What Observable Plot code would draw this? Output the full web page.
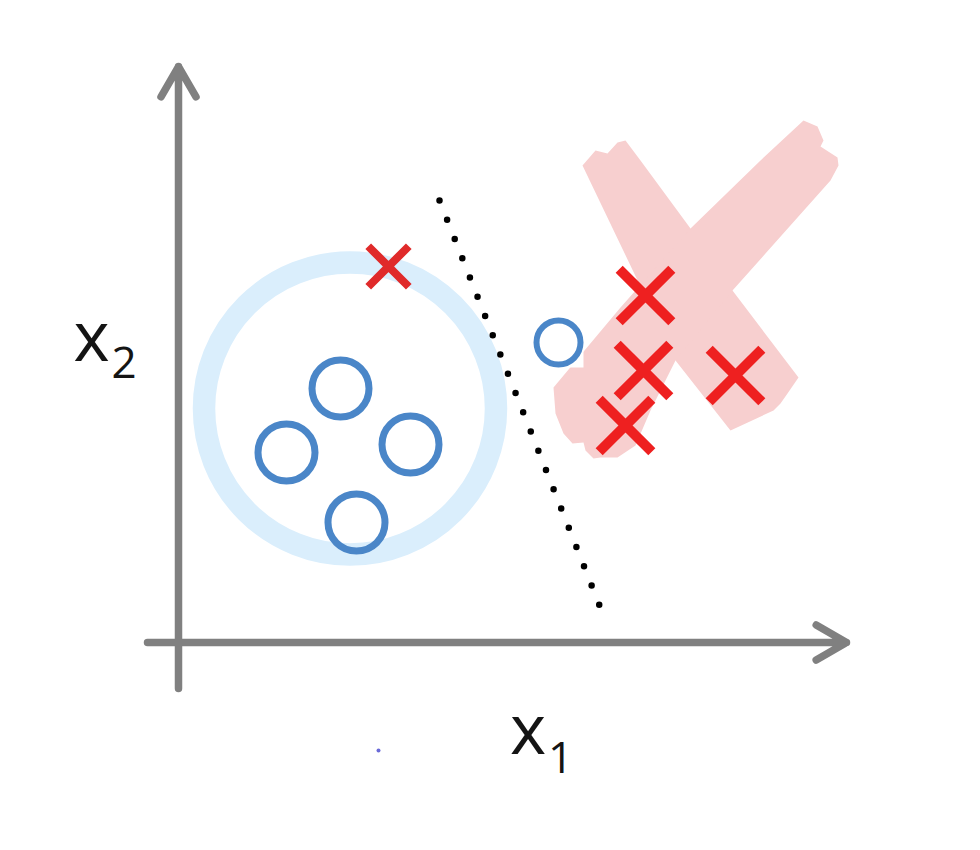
<!DOCTYPE html>
<html><head><meta charset="utf-8">
<script src="https://cdn.jsdelivr.net/npm/d3@7"></script>
<script src="https://cdn.jsdelivr.net/npm/@observablehq/plot@0.6"></script>
<style>html,body{margin:0;padding:0;background:#fff;} #chart svg{display:block}</style>
</head><body><div id="chart"></div>
<script>
// Class "o" points (x1, x2)
const circlePoints = [
  {x: 1.62, y: 2.54},
  {x: 1.08, y: 1.90},
  {x: 2.32, y: 1.98},
  {x: 1.78, y: 1.20}
];
const outlierCircle = [{x: 3.80, y: 3.00}];
// Class "x" points
const crossPoints = [
  {x: 4.67, y: 3.47},
  {x: 4.65, y: 2.72},
  {x: 5.57, y: 2.67},
  {x: 4.47, y: 2.17}
];
const outlierCross = [{x: 2.10, y: 3.76}];
// Cluster highlight ring centre
const clusterRing = [{x: 1.715, y: 2.34}];
// Dotted decision boundary end points
const boundary = [{x: 2.61, y: 4.42}, {x: 4.21, y: 0.37}];
// Axes
const axesArrows = [
  {x1: -0.31, y1: 0, x2: 6.68, y2: 0},
  {x1: 0, y1: -0.46, x2: 0, y2: 5.76}
];
// Big pink "X" brush strokes (outlines)
const brushA = [
  [4.04, 4.77], [4.17, 4.92], [4.29, 4.89], [4.39, 5.00], [4.47, 5.02], [4.62, 4.82],
  [5.12, 4.14], [5.54, 3.52], [6.20, 2.65], [6.09, 2.49], [6.02, 2.39], [5.95, 2.32],
  [5.52, 2.12], [4.97, 2.82], [4.62, 3.56]
].map(([x, y]) => ({x, y}));
const brushB = [
  [6.25, 5.22], [6.39, 5.16], [6.45, 5.02], [6.42, 4.96], [6.59, 4.85], [6.60, 4.77],
  [6.52, 4.62], [5.54, 3.52], [4.97, 2.82], [4.72, 2.32], [4.57, 1.97], [4.39, 1.85],
  [4.22, 1.85], [4.15, 1.84], [4.07, 1.92], [4.05, 2.00], [3.94, 1.99], [3.85, 2.09],
  [3.77, 2.29], [3.75, 2.55], [4.42, 3.35], [5.12, 4.14], [5.82, 4.82]
].map(([x, y]) => ({x, y}));
// Axis labels
const labelMain = [
  {text: "x", x: -0.87, y: 2.82},
  {text: "x", x: 3.495, y: -1.11}
];
const labelSub = [
  {text: "2", x: -0.545, y: 2.65},
  {text: "1", x: 3.82, y: -1.30}
];
const stray = [{x: 2.00, y: -1.08}];

const font = "'Open Sans', 'Liberation Sans', sans-serif";
const chart = Plot.plot({
  width: 980,
  height: 850,
  margin: 0,
  x: {domain: [-1.78, 8.02], axis: null},
  y: {domain: [-2.08, 6.42], axis: null},
  style: {background: "#ffffff"},
  marks: [
    Plot.line(brushA, {x: "x", y: "y", fill: "#f7cfcf", stroke: "none"}),
    Plot.line(brushB, {x: "x", y: "y", fill: "#f7cfcf", stroke: "none"}),
    Plot.dot(outlierCircle, {x: "x", y: "y", symbol: "square", r: 28.2, fill: "#ffffff", stroke: "none"}),
    Plot.dot(clusterRing, {x: "x", y: "y", r: 146, fill: "none", stroke: "#daeefc", strokeWidth: 22.5}),
    Plot.line(boundary, {x: "x", y: "y", stroke: "#000", strokeWidth: 6.5, strokeLinecap: "round", strokeDasharray: "0 20.7"}),
    Plot.arrow(axesArrows, {x1: "x1", y1: "y1", x2: "x2", y2: "y2", stroke: "#808080", strokeWidth: 7.5, headLength: 7, headAngle: 60}),
    Plot.dot(circlePoints, {x: "x", y: "y", r: 28.5, fill: "none", stroke: "#4a86c8", strokeWidth: 7}),
    Plot.dot(outlierCircle, {x: "x", y: "y", r: 22, fill: "none", stroke: "#4a86c8", strokeWidth: 6}),
    Plot.dot(crossPoints, {x: "x", y: "y", symbol: "times", r: 24, fill: "none", stroke: "#ee2020", strokeWidth: 10}),
    Plot.dot(outlierCross, {x: "x", y: "y", symbol: "times", r: 18.5, fill: "none", stroke: "#e02a2a", strokeWidth: 8}),
    Plot.dot(stray, {x: "x", y: "y", r: 2, fill: "#6a6ad8", stroke: "none"}),
    Plot.text(labelMain, {x: "x", y: "y", text: "text", fontSize: 69, fontFamily: font, fill: "#141414", textAnchor: "middle", lineAnchor: "bottom"}),
    Plot.text(labelSub, {x: "x", y: "y", text: "text", fontSize: 44, fontFamily: font, fill: "#141414", textAnchor: "middle", lineAnchor: "bottom"})
  ]
});
document.getElementById("chart").appendChild(chart);
</script></body></html>
